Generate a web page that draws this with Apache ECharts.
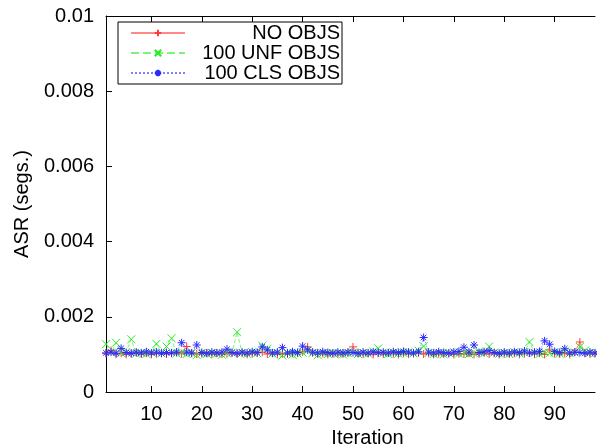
<!DOCTYPE html>
<html>
<head>
<meta charset="utf-8">
<script src="https://cdn.jsdelivr.net/npm/echarts@6/dist/echarts.min.js"></script>
<style>
  html, body { margin: 0; padding: 0; background: #fff; }
  #chart { width: 597px; height: 446px; }
</style>
</head>
<body>
<div id="chart"></div>
<script>
// tick labels
var xTicks = [10, 20, 30, 40, 50, 60, 70, 80, 90]
var seriesNames = ['NO OBJS', '100 UNF OBJS', '100 CLS OBJS']

// ASR per iteration (1..98)
var noObjs = [
  0.00102, 0.00110, 0.00101, 0.00103, 0.00100, 0.00102, 0.00104, 0.00101, 0.00103, 0.00100,
  0.00102, 0.00104, 0.00101, 0.00103, 0.00105, 0.00102, 0.00121, 0.00103, 0.00101, 0.00102,
  0.00104, 0.00100, 0.00103, 0.00101, 0.00102, 0.00104, 0.00101, 0.00103, 0.00100, 0.00102,
  0.00104, 0.00106, 0.00101, 0.00103, 0.00100, 0.00102, 0.00101, 0.00103, 0.00104, 0.00107,
  0.00120, 0.00104, 0.00101, 0.00102, 0.00100, 0.00103, 0.00101, 0.00102, 0.00104, 0.00120,
  0.00103, 0.00101, 0.00102, 0.00100, 0.00103, 0.00101, 0.00104, 0.00102, 0.00100, 0.00103,
  0.00101, 0.00102, 0.00104, 0.00101, 0.00103, 0.00100, 0.00102, 0.00101, 0.00103, 0.00100,
  0.00102, 0.00101, 0.00103, 0.00100, 0.00102, 0.00104, 0.00101, 0.00103, 0.00100, 0.00102,
  0.00101, 0.00103, 0.00100, 0.00102, 0.00104, 0.00101, 0.00103, 0.00100, 0.00112, 0.00102,
  0.00101, 0.00103, 0.00100, 0.00106, 0.00133, 0.00104, 0.00101, 0.00102
]
var unfObjs = [
  0.00127, 0.00105, 0.00131, 0.00103, 0.00106, 0.00140, 0.00102, 0.00104, 0.00101, 0.00105,
  0.00128, 0.00103, 0.00121, 0.00143, 0.00102, 0.00105, 0.00101, 0.00104, 0.00098, 0.00103,
  0.00101, 0.00104, 0.00102, 0.00099, 0.00103, 0.00105, 0.00159, 0.00104, 0.00101, 0.00106,
  0.00103, 0.00123, 0.00115, 0.00102, 0.00104, 0.00097, 0.00103, 0.00099, 0.00102, 0.00105,
  0.00110, 0.00104, 0.00098, 0.00103, 0.00101, 0.00104, 0.00102, 0.00100, 0.00103, 0.00105,
  0.00101, 0.00104, 0.00102, 0.00108, 0.00116, 0.00103, 0.00101, 0.00105, 0.00102, 0.00104,
  0.00106, 0.00103, 0.00110, 0.00122, 0.00104, 0.00101, 0.00103, 0.00100, 0.00104, 0.00106,
  0.00102, 0.00104, 0.00101, 0.00103, 0.00108, 0.00103, 0.00121, 0.00105, 0.00102, 0.00104,
  0.00101, 0.00106, 0.00103, 0.00105, 0.00133, 0.00104, 0.00101, 0.00106, 0.00103, 0.00105,
  0.00102, 0.00108, 0.00103, 0.00105, 0.00120, 0.00110, 0.00104, 0.00103
]
var clsObjs = [
  0.00104, 0.00106, 0.00103, 0.00116, 0.00105, 0.00103, 0.00106, 0.00104, 0.00107, 0.00104,
  0.00106, 0.00103, 0.00105, 0.00104, 0.00106, 0.00131, 0.00106, 0.00104, 0.00125, 0.00105,
  0.00103, 0.00106, 0.00104, 0.00106, 0.00114, 0.00105, 0.00103, 0.00106, 0.00104, 0.00107,
  0.00105, 0.00120, 0.00112, 0.00104, 0.00106, 0.00118, 0.00104, 0.00107, 0.00105, 0.00122,
  0.00112, 0.00106, 0.00104, 0.00107, 0.00105, 0.00103, 0.00106, 0.00104, 0.00106, 0.00105,
  0.00103, 0.00106, 0.00104, 0.00107, 0.00105, 0.00106, 0.00104, 0.00107, 0.00105, 0.00108,
  0.00106, 0.00104, 0.00107, 0.00145, 0.00106, 0.00104, 0.00107, 0.00105, 0.00103, 0.00106,
  0.00108, 0.00119, 0.00106, 0.00125, 0.00105, 0.00107, 0.00110, 0.00105, 0.00103, 0.00106,
  0.00104, 0.00107, 0.00105, 0.00109, 0.00104, 0.00106, 0.00108, 0.00136, 0.00127, 0.00108,
  0.00105, 0.00115, 0.00104, 0.00106, 0.00105, 0.00103, 0.00106, 0.00104
]

var font = 'Liberation Sans'

// symbols drawn as stroked paths, like gnuplot points
var plusSym = 'path://M0,5L10,5M5,0L5,10'
var crossSym = 'path://M0,0L10,10M10,0L0,10'
var starSym = 'path://M0,5L10,5M5,0L5,10M1.5,1.5L8.5,8.5M8.5,1.5L1.5,8.5'

function pairs (arr) {
  return arr.map(function (v, i) { return [i + 1, v] })
}

function makeSeries (name, data, color, sym, lineType) {
  return {
    name: name,
    type: 'line',
    data: pairs(data),
    symbol: sym,
    symbolSize: 8,
    showAllSymbol: true,
    animation: false,
    lineStyle: { color: color, width: 1, type: lineType, opacity: 0.6 },
    itemStyle: { color: color, borderColor: color, borderWidth: 1 }
  }
}

var myChart = echarts.init(document.getElementById('chart'))
myChart.setOption({
  animation: false,
  grid: { left: 106, right: 2, top: 16, bottom: 54, containLabel: false, outerBoundsMode: 'none' },
  legend: {
    orient: 'vertical',
    left: 118,
    top: 22,
    padding: [1, 2, 1, 12],
    itemGap: 0,
    itemWidth: 54,
    itemHeight: 8,
    borderColor: '#000',
    borderWidth: 1,
    data: seriesNames,
    formatter: function (name) { return '{r|' + name + '}' },
    textStyle: {
      fontFamily: font,
      fontSize: 20,
      color: '#000',
      rich: {
        r: { width: 150, align: 'right', fontFamily: font, fontSize: 20, lineHeight: 20, color: '#000' }
      }
    }
  },
  xAxis: [
    {
      type: 'value',
      min: 1,
      max: 98,
      position: 'bottom',
      name: 'Iteration',
      nameLocation: 'middle',
      nameGap: 35,
      nameTextStyle: { fontFamily: font, fontSize: 20, color: '#000', padding: [0, 0, 0, 34] },
      axisLine: { onZero: false, lineStyle: { color: '#000', width: 1 } },
      axisTick: { inside: true, length: 6, customValues: xTicks, lineStyle: { color: '#000' } },
      axisLabel: { customValues: xTicks, fontFamily: font, fontSize: 20, color: '#000', margin: 12 },
      splitLine: { show: false }
    },
    {
      type: 'value',
      min: 1,
      max: 98,
      position: 'top',
      axisLine: { onZero: false, lineStyle: { color: '#000', width: 1 } },
      axisTick: { inside: true, length: 6, customValues: xTicks, lineStyle: { color: '#000' } },
      axisLabel: { show: false },
      splitLine: { show: false }
    }
  ],
  yAxis: {
    type: 'value',
    min: 0,
    max: 0.01,
    interval: 0.002,
    name: 'ASR (segs.)',
    nameLocation: 'middle',
    nameGap: 74,
    nameTextStyle: { fontFamily: font, fontSize: 20, color: '#000' },
    axisLine: { show: true, onZero: false, lineStyle: { color: '#000', width: 1 } },
    axisTick: { show: true, inside: true, length: 6, lineStyle: { color: '#000' } },
    axisLabel: { fontFamily: font, fontSize: 20, color: '#000', margin: 12 },
    splitLine: { show: false }
  },
  series: [
    makeSeries(seriesNames[0], noObjs, '#ff3b3b', plusSym, 'solid'),
    makeSeries(seriesNames[1], unfObjs, '#22ee22', crossSym, 'dashed'),
    makeSeries(seriesNames[2], clsObjs, '#2a2aff', starSym, 'dotted')
  ]
})
</script>
</body>
</html>
